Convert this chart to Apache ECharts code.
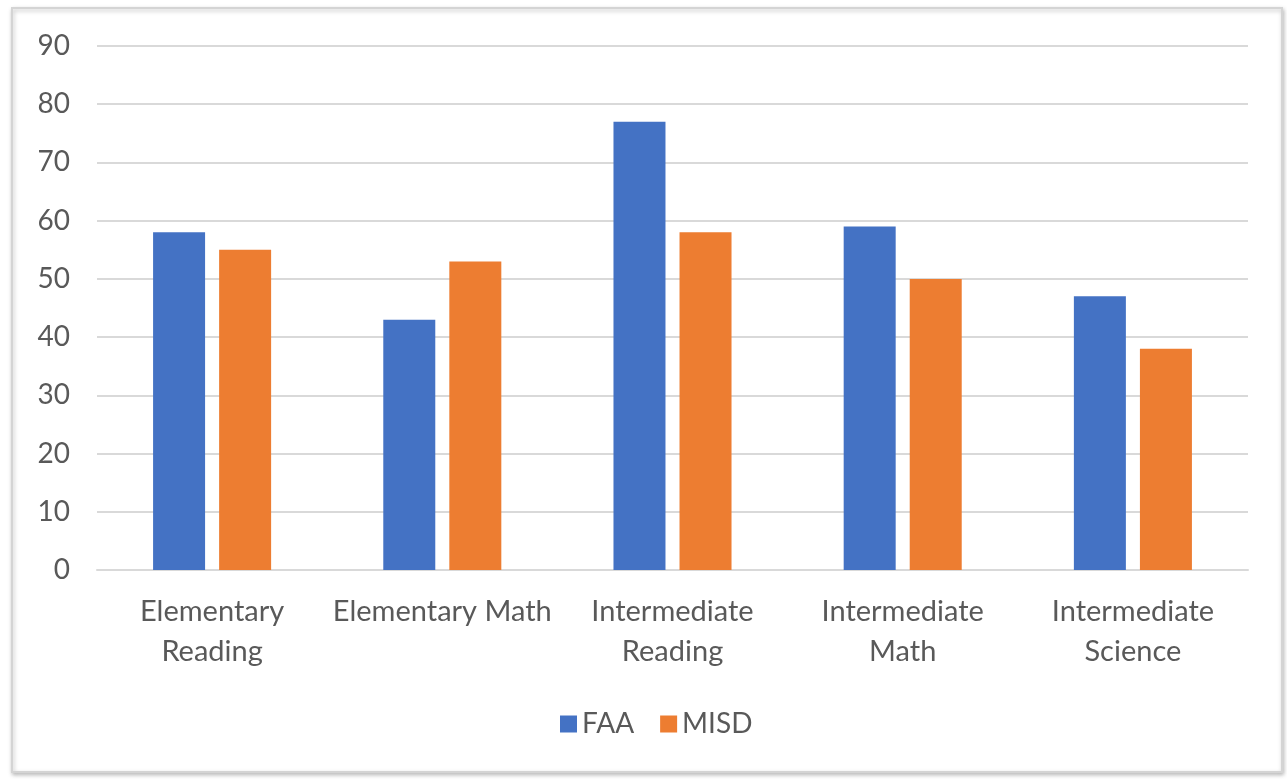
<!DOCTYPE html>
<html>
<head>
<meta charset="utf-8">
<script src="https://cdn.jsdelivr.net/npm/echarts@6/dist/echarts.min.js"></script>
<style>
html,body{margin:0;padding:0;background:#fff;}
#chart{width:1287px;height:779px;}
</style>
</head>
<body>
<div id="chart"></div>
<script>
const categories = ['Elementary\nReading', 'Elementary Math', 'Intermediate\nReading', 'Intermediate\nMath', 'Intermediate\nScience'];
const faa = [58, 43, 77, 59, 47];
const misd = [55, 53, 58, 50, 38];
const yMin = 0, yMax = 90, yStep = 10;

const chart = echarts.init(document.getElementById('chart'));
const fontFamily = 'Lato, "Open Sans", sans-serif';
chart.setOption({
  animation: false,
  graphic: [{
    type: 'rect',
    z: -10,
    shape: {x: 12, y: 8, width: 1270, height: 764},
    style: {fill: '#fff', stroke: '#d4d4d4', lineWidth: 2, shadowBlur: 4, shadowColor: 'rgba(0,0,0,0.25)', shadowOffsetX: 1, shadowOffsetY: 2}
  }],
  legend: {
    top: 705,
    left: 555,
    itemWidth: 17,
    itemHeight: 17,
    itemGap: 26,
    icon: 'rect',
    textStyle: {fontSize: 28, color: '#595959', fontFamily: fontFamily},
    data: ['FAA', 'MISD']
  },
  grid: {left: 97, right: 39, top: 46, bottom: 209},
  xAxis: {
    type: 'category',
    data: categories,
    axisLine: {lineStyle: {color: '#d9d9d9', width: 2}},
    axisTick: {show: false},
    axisLabel: {fontSize: 29, color: '#595959', fontFamily: fontFamily, lineHeight: 40, margin: 22, interval: 0}
  },
  yAxis: {
    type: 'value',
    min: yMin, max: yMax, interval: yStep,
    axisLine: {show: false},
    axisTick: {show: false},
    splitLine: {lineStyle: {color: '#d9d9d9', width: 2}},
    axisLabel: {fontSize: 28, color: '#595959', fontFamily: fontFamily, margin: 27}
  },
  series: [
    {name: 'FAA', type: 'bar', data: faa, barWidth: 52, barGap: '27%', itemStyle: {color: '#4472c4'}},
    {name: 'MISD', type: 'bar', data: misd, barWidth: 52, barGap: '27%', itemStyle: {color: '#ed7d31'}}
  ]
});
</script>
</body>
</html>
